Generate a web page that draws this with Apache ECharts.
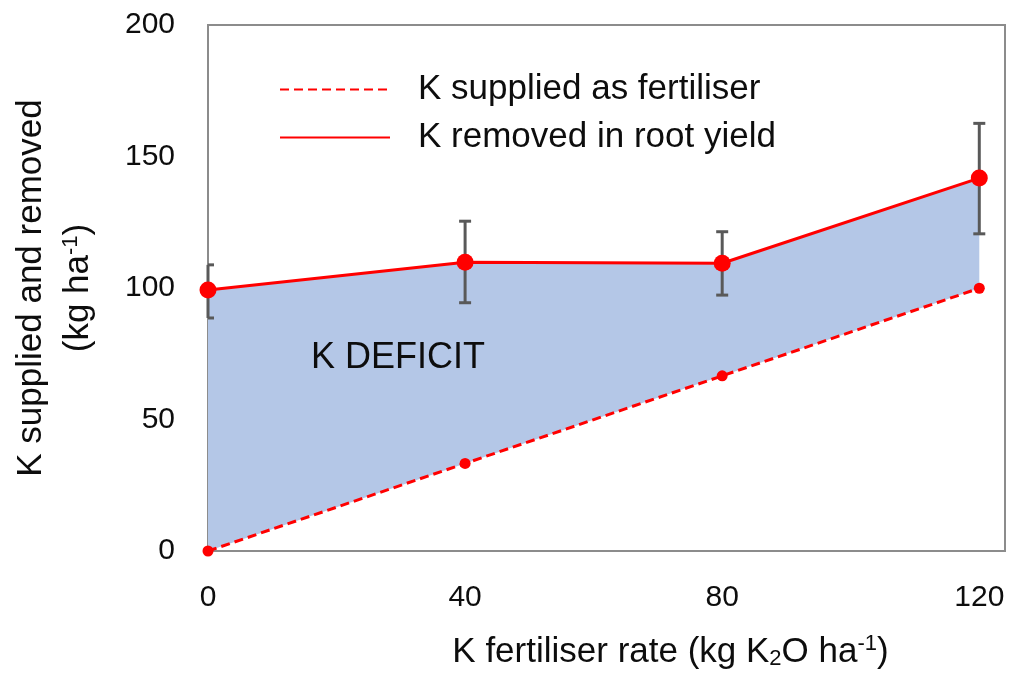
<!DOCTYPE html>
<html>
<head>
<meta charset="utf-8">
<script src="https://cdn.jsdelivr.net/npm/echarts@6/dist/echarts.min.js"></script>
<style>
  html, body { margin: 0; padding: 0; background: #fff; }
  #chart { width: 1009px; height: 678px; }
</style>
</head>
<body>
<div id="chart"></div>
<script>
// K2O rates on the x axis
const rates = [0, 40, 80, 120]
// K supplied as fertiliser (kg K ha-1)
const supplied = [0, 33.3, 66.6, 99.9]
// K removed in root yield (kg K ha-1) with error bar ends
const removed = [99.2, 109.8, 109.4, 141.8]
const removedLow = [88.6, 94.4, 97.3, 120.6]
const removedHigh = [108.8, 125.4, 121.4, 162.6]
const yTicks = [0, 50, 100, 150, 200]

const font = 'Liberation Sans'
const textColor = '#0d0d0d'
const red = '#ff0000'

const chart = echarts.init(document.getElementById('chart'))

const option = {
	animation: false,
	textStyle: { fontFamily: font },
	grid: {
		left: 207,
		top: 25,
		right: 4,
		bottom: 127,
		show: true,
		borderColor: '#8c8c8c',
		borderWidth: 2
	},
	legend: {
		orient: 'vertical',
		left: 279,
		top: 72,
		padding: 0,
		itemWidth: 110,
		itemHeight: 3,
		itemGap: 13,
		itemStyle: { opacity: 0 },
		data: ['K supplied as fertiliser', 'K removed in root yield'],
		textStyle: {
			fontFamily: font,
			fontSize: 35,
			lineHeight: 35,
			color: textColor,
			padding: [0, 0, 0, 23]
		}
	},
	xAxis: {
		type: 'value',
		min: 0,
		max: 124,
		interval: 40,
		axisLine: { show: false },
		axisTick: { show: false },
		splitLine: { show: false },
		axisLabel: {
			fontSize: 30,
			color: textColor,
			margin: 32,
			showMaxLabel: false,
			formatter: v => (rates.indexOf(v) >= 0 ? String(v) : '')
		},
		name: 'K fertiliser rate (kg K{sub|2}O ha{sup|-1})',
		nameLocation: 'middle',
		nameGap: 82,
		nameTextStyle: {
			fontSize: 35,
			color: textColor,
			padding: [0, 0, 0, 128],
			rich: {
				sub: { fontSize: 22, padding: [14, 0, 0, 0], color: textColor },
				sup: { fontSize: 22, padding: [0, 0, 16, 0], color: textColor }
			}
		}
	},
	yAxis: {
		type: 'value',
		min: yTicks[0],
		max: yTicks[yTicks.length - 1],
		interval: 50,
		axisLine: { show: false },
		axisTick: { show: false },
		splitLine: { show: false },
		axisLabel: { fontSize: 30, color: textColor, margin: 33 },
		name: 'K supplied and removed\n(kg ha{sup|-1})',
		nameLocation: 'middle',
		nameGap: 106,
		nameTextStyle: {
			fontSize: 35,
			lineHeight: 47,
			color: textColor,
			rich: {
				sup: { fontSize: 22, padding: [0, 0, 16, 0], color: textColor }
			}
		}
	},
	graphic: [
		{
			type: 'text',
			left: 311,
			top: 340,
			z: 20,
			style: { text: 'K DEFICIT', font: '36px "Liberation Sans"', fill: textColor }
		}
	],
	series: [
		{
			// shaded band between supplied and removed, drawn once from all points
			name: 'deficit',
			type: 'custom',
			z: 1,
			silent: true,
			data: rates.map((x, i) => [x, supplied[i], removed[i]]),
			encode: { x: 0, y: [1, 2] },
			renderItem: (params, api) => {
				if (params.dataIndexInside !== 0) return null
				const n = params.dataInsideLength
				const top = []
				const bottom = []
				for (let i = 0; i < n; i++) {
					top.push(api.coord([api.value(0, i), api.value(2, i)]))
					bottom.unshift(api.coord([api.value(0, i), api.value(1, i)]))
				}
				return {
					type: 'polygon',
					shape: { points: top.concat(bottom) },
					style: { fill: '#b4c7e7' }
				}
			}
		},
		{
			name: 'error',
			type: 'custom',
			z: 2,
			silent: true,
			data: rates.map((x, i) => [x, removedLow[i], removedHigh[i]]),
			encode: { x: 0, y: [1, 2] },
			renderItem: (params, api) => {
				const lo = api.coord([api.value(0), api.value(1)])
				const hi = api.coord([api.value(0), api.value(2)])
				const cs = params.coordSys
				const half = 6
				const l = Math.max(lo[0] - half, cs.x)
				const r = Math.min(lo[0] + half, cs.x + cs.width)
				const style = { stroke: '#595959', lineWidth: 3 }
				return {
					type: 'group',
					children: [
						{ type: 'line', shape: { x1: lo[0], y1: lo[1], x2: hi[0], y2: hi[1] }, style },
						{ type: 'line', shape: { x1: l, y1: lo[1], x2: r, y2: lo[1] }, style },
						{ type: 'line', shape: { x1: l, y1: hi[1], x2: r, y2: hi[1] }, style }
					]
				}
			}
		},
		{
			name: 'K supplied as fertiliser',
			type: 'line',
			data: rates.map((x, i) => [x, supplied[i]]),
			symbol: 'circle',
			symbolSize: 11,
			clip: false,
			itemStyle: { color: red },
			lineStyle: { color: red, width: 3, type: [9, 5] },
			z: 3
		},
		{
			name: 'K removed in root yield',
			type: 'line',
			data: rates.map((x, i) => [x, removed[i]]),
			symbol: 'circle',
			symbolSize: 17,
			clip: false,
			itemStyle: { color: red },
			lineStyle: { color: red, width: 3 },
			z: 3
		}
	]
}

chart.setOption(option)
</script>
</body>
</html>
